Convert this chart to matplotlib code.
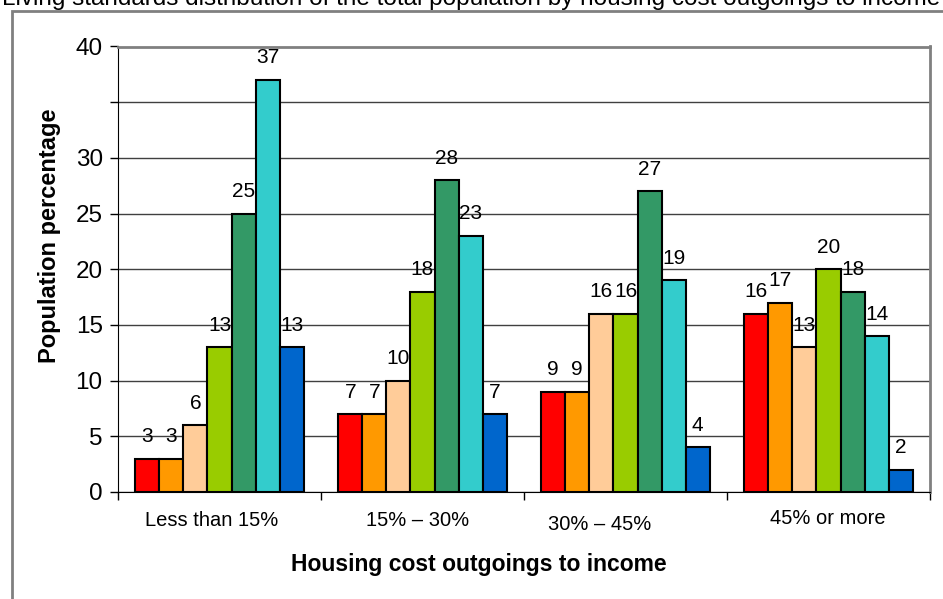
import numpy as np
import matplotlib
matplotlib.use("Agg")
import matplotlib.pyplot as plt
from matplotlib.patches import Rectangle

plt.rcParams['font.family'] = ['Liberation Sans', 'DejaVu Sans']

# Housing cost outgoings to income groups
categories = ["Less than 15%", "15% \u2013 30%", "30% \u2013 45%", "45% or more"]

# One series per living standards group (7 bars per category)
series_1 = [3, 7, 9, 16]
series_2 = [3, 7, 9, 17]
series_3 = [6, 10, 16, 13]
series_4 = [13, 18, 16, 20]
series_5 = [25, 28, 27, 18]
series_6 = [37, 23, 19, 14]
series_7 = [13, 7, 4, 2]
all_series = [series_1, series_2, series_3, series_4, series_5, series_6, series_7]

colors = ["#FF0000", "#FF9900", "#FFCC99", "#99CC00", "#339966", "#33CCCC", "#0066CC"]

y_ticks = [0, 5, 10, 15, 20, 25, 30, 35, 40]
y_tick_labels = ["0", "5", "10", "15", "20", "25", "30", "", "40"]

# small shifts of the category labels as they sit in the original
label_dx = [-0.04, -0.025, -0.128, -0.005]
label_dy = [0, 0, 4, -1]

W, H = 943, 599
fig = plt.figure(figsize=(W / 100, H / 100), dpi=100)
ax = fig.add_axes([118 / W, 1 - 492 / H, (930 - 118) / W, (492 - 46.5) / H])

# outer chart frame
fig.patches.append(Rectangle((12 / W, -0.1), 1.2, 1 - 11 / H + 0.1,
                             transform=fig.transFigure, fill=False,
                             edgecolor="#808080", linewidth=2))

x = np.arange(len(categories))
bw = 0.1187
for i, (vals, c) in enumerate(zip(all_series, colors)):
    xs = x + (i - 3) * bw
    ax.bar(xs, vals, width=bw, color=c, edgecolor="black", linewidth=1.5, zorder=3)
    for xv, v in zip(xs, vals):
        ax.annotate(str(v), (xv, v), xytext=(0, 22), textcoords="offset pixels",
                    ha="center", va="center", fontsize=15, zorder=4)

ax.set_xlim(-0.5, 3.5)
ax.set_ylim(0, 40)
ax.set_yticks(y_ticks)
ax.set_yticklabels(y_tick_labels, fontsize=17.5)
ax.yaxis.grid(True, color="#404040", linewidth=1)
ax.set_axisbelow(True)

ax.set_xticks(np.arange(len(categories) + 1) - 0.5)
ax.set_xticklabels([])
ax.tick_params(axis="x", length=6, width=1, color="black", direction="out")
ax.tick_params(axis="y", length=6, width=1, color="black", direction="out", pad=5)

for i, lab in enumerate(categories):
    ax.annotate(lab, (i + label_dx[i], 0), xytext=(0, -28 - label_dy[i]),
                textcoords="offset pixels", ha="center", va="center",
                fontsize=14.5, annotation_clip=False)

for s in ["top", "right"]:
    ax.spines[s].set_color("#808080")
    ax.spines[s].set_linewidth(2)
ax.spines["left"].set_color("black")
ax.spines["bottom"].set_color("black")

fig.text(479 / W, 1 - 565 / H, "Housing cost outgoings to income",
         ha="center", va="center", fontsize=16.5, fontweight="bold")
fig.text(50 / W, 1 - 236 / H, "Population percentage", rotation=90,
         ha="center", va="center", fontsize=17, fontweight="bold")
fig.text(471 / W, 1 - 5 / H,
         "Living standards distribution of the total population by housing cost outgoings to income",
         ha="center", va="baseline", fontsize=17.5)

fig.savefig("out.png", dpi=100, facecolor="white")
